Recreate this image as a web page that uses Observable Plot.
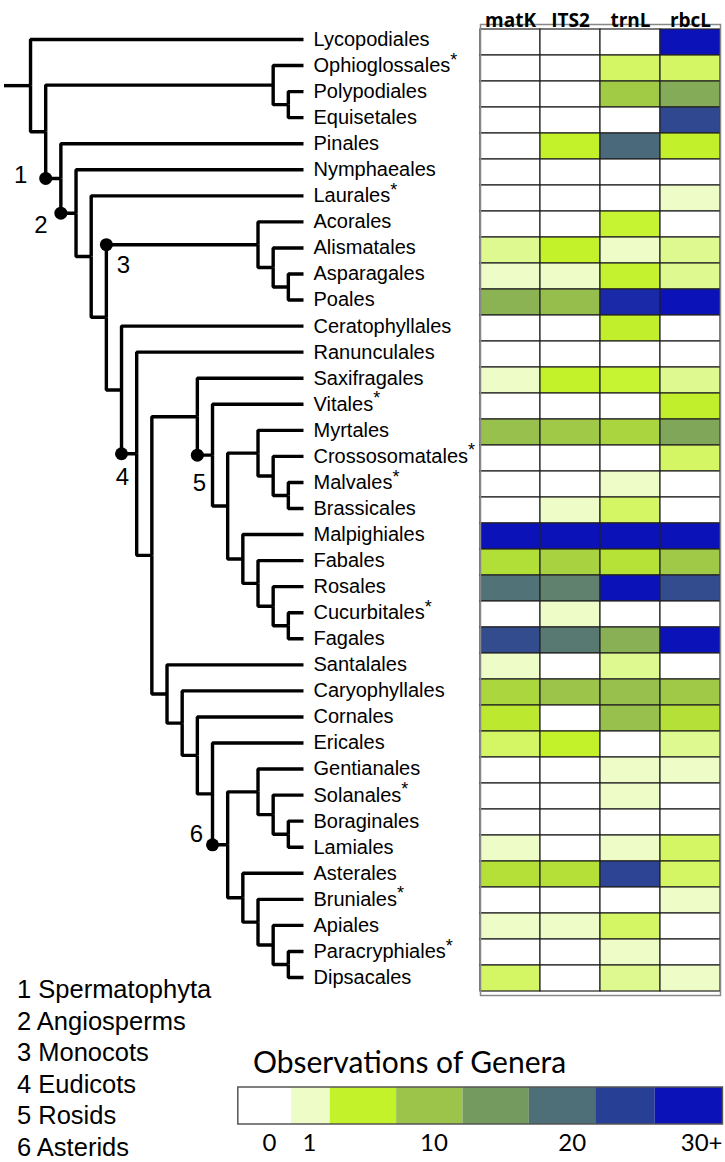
<!DOCTYPE html>
<html>
<head>
<meta charset="utf-8">
<script src="https://cdn.jsdelivr.net/npm/d3@7"></script>
<script src="https://cdn.jsdelivr.net/npm/@observablehq/plot@0.6"></script>
<style>
  body { margin: 0; background: #fff; }
  #wrap { position: relative; width: 725px; height: 1162px; background: #fff; overflow: hidden; }
  #wrap svg { position: absolute; left: 0; top: 0; background: transparent !important; }
  .cladeKey { position: absolute; left: 17px; top: 974px; font-family: "Liberation Sans", Arial, sans-serif; font-size: 25.5px; line-height: 31.6px; color: #000; }
  .legendTitle { position: absolute; left: 253px; top: 1044px; font-family: Lato, "Open Sans", sans-serif; font-size: 30px; line-height: 34px; color: #000; white-space: nowrap; }
</style>
</head>
<body>
<div id="wrap"></div>
<script>
// ---------------- data ----------------
const orders = ["Lycopodiales","Ophioglossales","Polypodiales","Equisetales","Pinales","Nymphaeales","Laurales",
  "Acorales","Alismatales","Asparagales","Poales","Ceratophyllales","Ranunculales","Saxifragales","Vitales",
  "Myrtales","Crossosomatales","Malvales","Brassicales","Malpighiales","Fabales","Rosales","Cucurbitales","Fagales",
  "Santalales","Caryophyllales","Cornales","Ericales","Gentianales","Solanales","Boraginales","Lamiales",
  "Asterales","Bruniales","Apiales","Paracryphiales","Dipsacales"];
const starred = ["Ophioglossales","Laurales","Vitales","Crossosomatales","Malvales","Cucurbitales","Solanales","Bruniales","Paracryphiales"];
const genes = ["matK","ITS2","trnL","rbcL"];
const matK = [0,0,0,0,0,0,0, 0,2.4,1,12,0,0,1,0, 10.5,0,0,0,30,7.2,19.6,0,23.6, 1,8,6,3.5,0,0,0,1, 7,0,1,0,3.5];
const ITS2 = [0,0,0,0,5,0,0, 0,5,1,10.7,0,0,5,0, 9.5,0,0,1,30,8.5,17.8,1,18.7, 0,10,0,5,0,0,0,0, 7,0,1,0,0];
const trnL = [0,3.5,9.2,0,20.5,0,0, 4.8,1,4.9,27.5,5.3,0,4.8,0, 8.2,0,1,3.5,30,6.8,30,0,12.4, 2.4,10.5,10.5,0,1,1,0,1, 24.5,0,3.5,1,2.4];
const rbcL = [30,3.5,13,24,5.2,0,1, 0,2.4,2.4,30,0,0,2.4,5.3, 13.5,3.5,0,0,30,9.5,23.6,0,30, 0,9.5,7,2.4,1,0,0,3.5, 3.5,1,0,0,1];
const newick = "(Lycopodiales,((Ophioglossales,(Polypodiales,Equisetales)),(Pinales,(Nymphaeales,(Laurales,((Acorales,(Alismatales,(Asparagales,Poales)))3,(Ceratophyllales,(Ranunculales,((Saxifragales,(Vitales,((Myrtales,(Crossosomatales,(Malvales,Brassicales))),(Malpighiales,(Fabales,(Rosales,(Cucurbitales,Fagales))))))5),(Santalales,(Caryophyllales,(Cornales,(Ericales,((Gentianales,(Solanales,(Boraginales,Lamiales))),(Asterales,(Bruniales,(Apiales,(Paracryphiales,Dipsacales)))))6))))))4))))2)1));";
const cladeNames = ["Spermatophyta","Angiosperms","Monocots","Eudicots","Rosids","Asterids"];
const scaleValues = [0,1,5,10,15,20,25,30];
const scaleColors = ["#ffffff","#eefcc8","#c4f22a","#9cc44a","#749a60","#4e6e78","#283f96","#0a12b8"];
const legendEdges = [-0.78,0.55,2.5,7.3,12.1,16.9,21.7,26.0,30.9];
const legendTicks = [0,1,10,20,30];
const legendTickLabels = ["0","1","10","20","30+"];

// ---------------- tree ----------------
function parseNewick(s) {
  let i = 0;
  function node() {
    const n = {children: []};
    if (s[i] === "(") {
      i++;
      n.children.push(node());
      while (s[i] === ",") { i++; n.children.push(node()); }
      if (s[i] !== ")") throw new Error("bad newick at " + i);
      i++;
    }
    let name = "";
    while (i < s.length && !",();".includes(s[i])) name += s[i++];
    n.name = name;
    return n;
  }
  return node();
}
const root = parseNewick(newick);
const nodes = [];
(function layout(n, parent) {
  n.parent = parent; nodes.push(n);
  if (!n.children.length) { n.y = orders.indexOf(n.name); n.h = 0; }
  else {
    n.children.forEach(c => layout(c, n));
    n.y = (n.children[0].y + n.children[n.children.length - 1].y) / 2;
    n.h = 1 + d3.max(n.children, c => c.h);
  }
})(root, null);
const depth = root.h;
nodes.forEach(n => n.x = depth - n.h);
const stub = 1.75;
const edges = nodes.filter(n => n.parent).map(n => ({x1: n.parent.x, y1: n.parent.y, x2: n.x, y2: n.y}));
edges.push({x1: -stub, y1: root.y, x2: 0, y2: root.y});
const tips = nodes.filter(n => !n.children.length).map(n => ({x: n.x, y: n.y, label: n.name + (starred.includes(n.name) ? "*" : "")}));
const clades = nodes.filter(n => n.children.length && n.name).map(n => ({id: n.name, x: n.parent.x, y: n.y}));

const cladeLabelOffset = {"1": [-25, -3], "2": [-20, 12], "3": [17, 21], "4": [1, 24], "5": [2, 28], "6": [-16, -10]};

const treePlot = Plot.plot({
  width: 725, height: 1000,
  x: {domain: [-stub, depth], range: [3.5, 303], axis: null},
  y: {domain: [0, orders.length - 1], range: [39, 977], axis: null},
  marks: [
    Plot.link(edges, {x1: "x1", y1: "y1", x2: "x2", y2: "y2", curve: "step-before", stroke: "#000", strokeWidth: 3.4, strokeLinejoin: "miter", strokeLinecap: "butt"}),
    Plot.dot(clades, {x: "x", y: "y", r: 6.5, fill: "#000", stroke: "none"}),
    ...clades.map(c => Plot.text([c], {x: "x", y: "y", text: "id", dx: cladeLabelOffset[c.id][0], dy: cladeLabelOffset[c.id][1], fontSize: 24, fontFamily: "Liberation Sans, Arial, sans-serif", fill: "#000"})),
    Plot.text(tips, {x: "x", y: "y", text: "label", dx: 10, textAnchor: "start", fontSize: 20, fontFamily: "Liberation Sans, Arial, sans-serif", fill: "#000"})
  ]
});
// raise the asterisks
d3.select(treePlot).selectAll("text").each(function() {
  const t = this.textContent;
  if (t.length > 1 && t.endsWith("*")) {
    this.textContent = t.slice(0, -1);
    d3.select(this).append("tspan").attr("dy", "-0.35em").attr("font-size", "18px").text("*");
  }
});

// ---------------- heatmap ----------------
const series = {matK, ITS2, trnL, rbcL};
const cells = orders.flatMap((o, i) => genes.map(g => ({order: o, gene: g, value: series[g][i]})));
const heatPlot = Plot.plot({
  width: 725, height: 1000,
  marginTop: 24, marginBottom: 5, marginLeft: 480, marginRight: 5,
  x: {domain: genes, padding: 0, axis: null},
  y: {domain: orders, padding: 0, axis: null},
  color: {type: "linear", domain: scaleValues, range: scaleColors, interpolate: "rgb", clamp: true, legend: false},
  marks: [
    Plot.cell(cells, {x: "gene", y: "order", fill: "value", stroke: "#222", strokeWidth: 1.2}),
    Plot.frame({stroke: "#888", strokeWidth: 1.5}),
    Plot.text(genes, {x: d => d, text: d => d, frameAnchor: "top", dy: -11, fontSize: 19, fontWeight: "bold", fontFamily: "Open Sans, sans-serif", fill: "#000"})
  ]
});

// ---------------- colour legend ----------------
// the legend axis is linear from 1 to 30+, with 0 set apart to the left
const legendPos = d3.scaleLinear().domain([0, 1, 30]).range([1 - 40 / 13.83, 1, 30]);
const bins = scaleColors.map((c, i) => ({x1: legendEdges[i], x2: legendEdges[i + 1], fill: c}));
const lastTick = legendTicks.length - 1;
const legendPlot = Plot.plot({
  width: 725, height: 122,
  marginTop: 0, marginBottom: 0, marginLeft: 0, marginRight: 0,
  x: {type: "linear", transform: legendPos, domain: [1, 30], range: [309, 710], axis: null},
  y: {domain: [0, 1], range: [84, 47], axis: null},
  marks: [
    Plot.rect(bins, {x1: "x1", x2: "x2", y1: () => 0, y2: () => 1, fill: d => d.fill}),
    Plot.rect([legendEdges], {x1: d => d[0], x2: d => d[d.length - 1], y1: () => 0, y2: () => 1, fill: "none", stroke: "#555", strokeWidth: 1.5}),
    Plot.text(legendTicks.slice(0, lastTick), {x: d => d, y: () => 0, dy: 19, text: (d, i) => legendTickLabels[i], fontSize: 24, fontFamily: "Lato, Open Sans, sans-serif", fill: "#000"}),
    Plot.text([legendTicks[lastTick]], {x: d => d, y: () => 0, dy: 19, dx: 12, textAnchor: "end", text: () => legendTickLabels[lastTick], fontSize: 24, fontFamily: "Lato, Open Sans, sans-serif", fill: "#000"})
  ]
});
legendPlot.style.top = "1040px";

const wrap = document.getElementById("wrap");
wrap.appendChild(treePlot);
wrap.appendChild(heatPlot);
wrap.appendChild(legendPlot);

const key = document.createElement("div");
key.className = "cladeKey";
key.innerHTML = cladeNames.map((n, i) => `${i + 1} ${n}`).join("<br>");
wrap.appendChild(key);

const title = document.createElement("div");
title.className = "legendTitle";
title.textContent = "Observations of Genera";
wrap.appendChild(title);
</script>
</body>
</html>
